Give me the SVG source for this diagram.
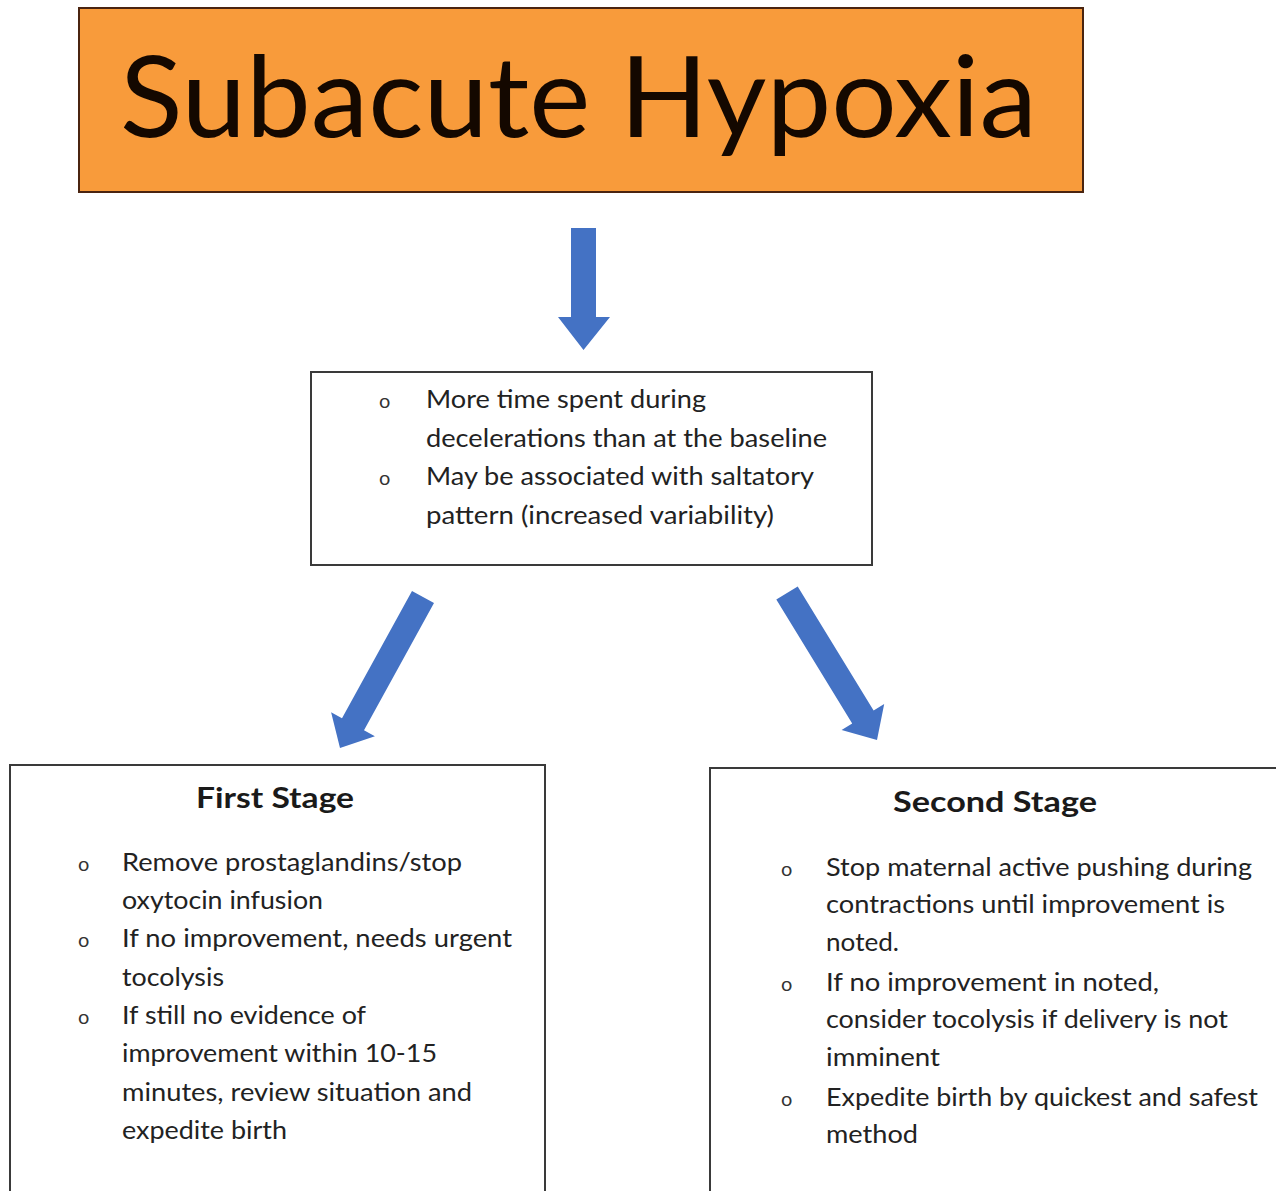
<svg xmlns="http://www.w3.org/2000/svg" width="1276" height="1191" viewBox="0 0 1276 1191">
<style>
.box{fill:#fff;stroke:#3a3a3a;stroke-width:2}
.t{font-family:Lato,"Open Sans","Liberation Sans",sans-serif;font-size:25px;fill:#222}
.b{font-family:Lato,"Open Sans","Liberation Sans",sans-serif;font-size:20px;fill:#333}
.h{font-family:Lato,"Open Sans","Liberation Sans",sans-serif;font-size:29px;font-weight:bold;fill:#1a1a1a;text-anchor:middle}
.arr{fill:#4472C4}
</style>
<rect width="1276" height="1191" fill="#fff"/>
<g id="title">
<rect x="79" y="8" width="1004" height="184" fill="#F89B3B" stroke="#4a2410" stroke-width="2"/>
<text x="120" y="137" font-family="Lato,'Open Sans','Liberation Sans',sans-serif" font-size="113" fill="#140800" textLength="917" lengthAdjust="spacingAndGlyphs">Subacute Hypoxia</text>
</g>
<g id="connectors">
<polygon class="arr" points="571,228 596,228 596,317 610,317 583.5,350 558,317 571,317"/>
<polygon class="arr" points="434,603 364,730.3 374.9,736.3 340,748 331.1,712.3 342,718.3 412,591"/>
<polygon class="arr" points="776.3,599.5 852.2,723.5 841.6,730.1 877,740 884.2,703.9 873.6,710.5 797.7,586.5"/>
</g>
<g id="signs">
<rect class="box" x="311" y="372" width="561" height="193"/>
<text class="b" x="379" y="408">o</text>
<text class="t" x="426" y="408" textLength="280" lengthAdjust="spacingAndGlyphs">More time spent during</text>
<text class="t" x="426" y="447" textLength="401" lengthAdjust="spacingAndGlyphs">decelerations than at the baseline</text>
<text class="b" x="379" y="485">o</text>
<text class="t" x="426" y="485" textLength="388" lengthAdjust="spacingAndGlyphs">May be associated with saltatory</text>
<text class="t" x="426" y="524" textLength="348" lengthAdjust="spacingAndGlyphs">pattern (increased variability)</text>
</g>
<g id="first-stage">
<rect class="box" x="10" y="765" width="535" height="440"/>
<text class="h" x="275" y="808" textLength="158" lengthAdjust="spacingAndGlyphs">First Stage</text>
<text class="b" x="78" y="871">o</text>
<text class="t" x="122" y="871" textLength="340" lengthAdjust="spacingAndGlyphs">Remove prostaglandins/stop</text>
<text class="t" x="122" y="909" textLength="201" lengthAdjust="spacingAndGlyphs">oxytocin infusion</text>
<text class="b" x="78" y="947">o</text>
<text class="t" x="122" y="947" textLength="390" lengthAdjust="spacingAndGlyphs">If no improvement, needs urgent</text>
<text class="t" x="122" y="986" textLength="102" lengthAdjust="spacingAndGlyphs">tocolysis</text>
<text class="b" x="78" y="1024">o</text>
<text class="t" x="122" y="1024" textLength="244" lengthAdjust="spacingAndGlyphs">If still no evidence of</text>
<text class="t" x="122" y="1062" textLength="315" lengthAdjust="spacingAndGlyphs">improvement within 10-15</text>
<text class="t" x="122" y="1101" textLength="350" lengthAdjust="spacingAndGlyphs">minutes, review situation and</text>
<text class="t" x="122" y="1139" textLength="165" lengthAdjust="spacingAndGlyphs">expedite birth</text>
</g>
<g id="second-stage">
<rect class="box" x="710" y="768" width="580" height="440"/>
<text class="h" x="995" y="812" textLength="204" lengthAdjust="spacingAndGlyphs">Second Stage</text>
<text class="b" x="781" y="876">o</text>
<text class="t" x="826" y="876" textLength="426" lengthAdjust="spacingAndGlyphs">Stop maternal active pushing during</text>
<text class="t" x="826" y="913" textLength="399" lengthAdjust="spacingAndGlyphs">contractions until improvement is</text>
<text class="t" x="826" y="951" textLength="73" lengthAdjust="spacingAndGlyphs">noted.</text>
<text class="b" x="781" y="991">o</text>
<text class="t" x="826" y="991" textLength="333" lengthAdjust="spacingAndGlyphs">If no improvement in noted,</text>
<text class="t" x="826" y="1028" textLength="402" lengthAdjust="spacingAndGlyphs">consider tocolysis if delivery is not</text>
<text class="t" x="826" y="1066" textLength="114" lengthAdjust="spacingAndGlyphs">imminent</text>
<text class="b" x="781" y="1106">o</text>
<text class="t" x="826" y="1106" textLength="432" lengthAdjust="spacingAndGlyphs">Expedite birth by quickest and safest</text>
<text class="t" x="826" y="1143" textLength="92" lengthAdjust="spacingAndGlyphs">method</text>
</g>
</svg>
